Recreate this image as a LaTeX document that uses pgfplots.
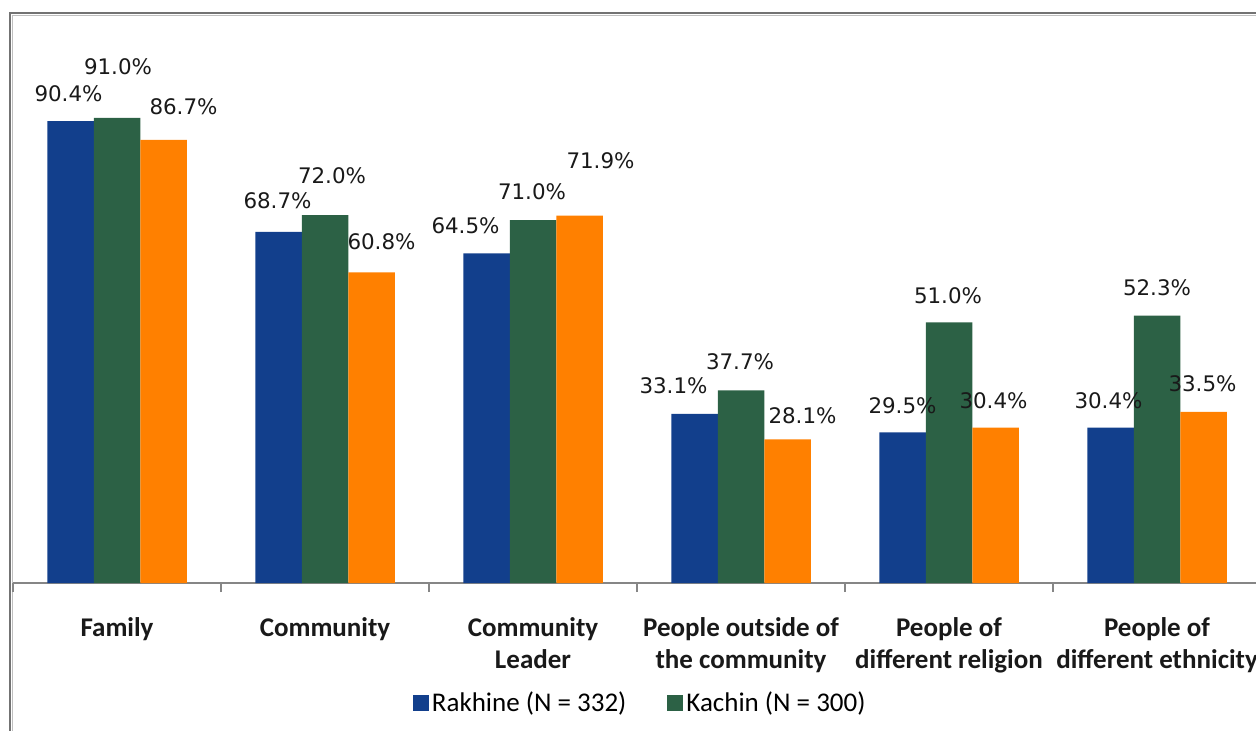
\documentclass[border=0pt]{standalone}
\usepackage{pgfplots}
\pgfplotsset{compat=1.18}
\usepackage{pgfplotstable}
\usepackage{fontspec}
\setmainfont{Carlito}
\newfontfamily\dejavu{DejaVu Sans}
\definecolor{cblue}{RGB}{18,63,140}
\definecolor{cgreen}{RGB}{44,97,69}
\definecolor{corange}{RGB}{255,128,0}
\definecolor{axgray}{RGB}{134,134,134}
\newcommand\tl[1]{\begin{tabular}[t]{@{}c@{}}#1\end{tabular}}

% x  value  dx(px)  dy(px) : label offset from bar top centre
\pgfplotstableread{
x y dx dy
0 90.4 -2 27
1 68.7 -1 31
2 64.5 -21 28
3 33.1 -21 28
4 29.5 0 27
5 30.4 -2 27
}\rakhine
\pgfplotstableread{
x y dx dy
0 91.0 1 51
1 72.0 7 39
2 71.0 -1 28
3 37.7 -1 29
4 51.0 -1 27
5 52.3 0 28
}\kachin
\pgfplotstableread{
x y dx dy
0 86.7 20 33
1 60.8 10 31
2 71.9 21 55
3 28.1 15 24
4 30.4 -2 27
5 33.5 -1 28
}\third

\begin{document}
\begin{tikzpicture}
\useasboundingbox (0,0) rectangle (628bp,365.5bp);
% outer frame (double line, only top and left visible)
\draw[black!55, line width=0.8bp] (5bp,-10bp) -- (5bp,359bp) -- (640bp,359bp);
\draw[black!25, line width=0.8bp] (6.3bp,-10bp) -- (6.3bp,357.7bp) -- (640bp,357.7bp);
\begin{axis}[
  at={(6.5bp,74bp)}, anchor=south west,
  scale only axis,
  width=621.5bp, height=255.5bp,
  xmin=-0.5, xmax=5.476, ymin=0, ymax=100,
  enlargelimits=false,
  clip=false,
  ybar=0pt, bar width=23.25bp,
  axis x line*=bottom,
  hide y axis,
  axis line style={draw=axgray, line width=0.6bp},
  xtick={0,...,5},
  xticklabels={\tl{Family}, \tl{Community}, \tl{Community\\Leader}, \tl{People outside of\\the community}, \tl{People of\\different religion}, \tl{People of\\different ethnicity}},
  major tick length=0pt,
  minor xtick={-0.5,0.5,...,5.5},
  minor tick length=4.5bp,
  tick align=outside,
  minor tick style={draw=axgray, line width=0.6bp},
  xticklabel style={font=\fontsize{13.5bp}{16bp}\selectfont\bfseries, anchor=base, inner sep=0pt, yshift=-26.5bp, text=black!90},
  nodes near coords={\pgfmathprintnumber[fixed,fixed zerofill,precision=1,assume math mode=true]{\pgfplotspointmeta}\%},
  every node near coord/.append style={font=\dejavu\fontsize{10.7bp}{12bp}\selectfont, text=black!90, anchor=center, xshift=\dx*0.5bp, yshift=\dy*0.5bp},
  visualization depends on={\thisrow{dx} \as \dx},
  visualization depends on={\thisrow{dy} \as \dy},
  legend columns=2,
  legend style={at={(0.505,-0.235)}, anchor=center, draw=none, fill=none,
    font=\fontsize{13.5bp}{16bp}\selectfont,
    /tikz/every even column/.append style={column sep=19bp},
    nodes={inner sep=1.5bp}},
]
\addplot[fill=cblue, draw=none, legend image code/.code={\fill[cblue] (0bp,-4bp) rectangle (8bp,4bp);}] table[x=x,y=y] {\rakhine};
\addplot[fill=cgreen, draw=none, legend image code/.code={\fill[cgreen] (0bp,-4bp) rectangle (8bp,4bp);}] table[x=x,y=y] {\kachin};
\addplot[fill=corange, draw=none] table[x=x,y=y] {\third};
\legend{Rakhine (N = 332), Kachin (N = 300)}
\end{axis}
\end{tikzpicture}
\end{document}
